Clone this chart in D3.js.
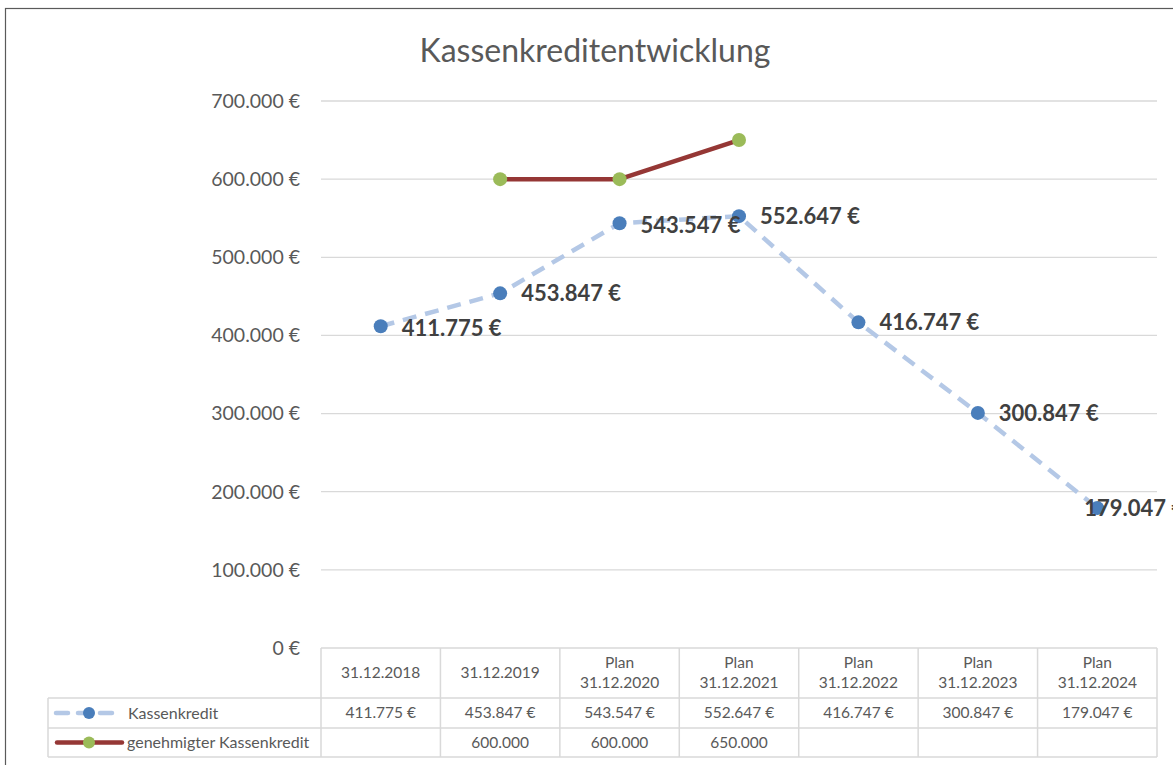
<!DOCTYPE html>
<html>
<head>
<meta charset="utf-8">
<script src="https://cdn.jsdelivr.net/npm/d3@7"></script>
<style>
  body { margin: 0; background: #fff; }
  svg text { font-family: Lato, "Open Sans", sans-serif; }
</style>
</head>
<body>
<div id="chart"></div>
<script>
// data
var categories = [
  ["31.12.2018"], ["31.12.2019"],
  ["Plan", "31.12.2020"], ["Plan", "31.12.2021"], ["Plan", "31.12.2022"],
  ["Plan", "31.12.2023"], ["Plan", "31.12.2024"]
];
var kassenkredit = [411775, 453847, 543547, 552647, 416747, 300847, 179047];
var genehmigt = [null, 600000, 600000, 650000, null, null, null];
var yTicks = [0, 100000, 200000, 300000, 400000, 500000, 600000, 700000];
var seriesNames = ["Kassenkredit", "genehmigter Kassenkredit"];

var attrs = {
  width: 1173,
  height: 765,
  plotLeft: 321,
  plotRight: 1157,
  plotTop: 101,
  plotBottom: 648,
  tableLeft: 48,
  rowBottoms: [698, 728, 757],
  textColor: '#595959',
  labelColor: '#404040',
  gridColor: '#d9d9d9',
  lineBlue: '#b4c8e6',
  markerBlue: '#4a7ebb',
  lineRed: '#953735',
  markerGreen: '#9bbb59',
  tableFont: 15.5
};

var fmt = function(v) {
  return d3.format(",.0f")(v).replace(/,/g, ".");
};

var svg = d3.select("#chart").append("svg")
  .attr("width", attrs.width)
  .attr("height", attrs.height);

// chart border
svg.append("rect")
  .attr("x", 5.5).attr("y", 8.5)
  .attr("width", 1200).attr("height", 800)
  .attr("fill", "none")
  .attr("stroke", "#5a5a5a")
  .attr("stroke-width", 1.2);

// title
svg.append("text")
  .attr("x", 595).attr("y", 62)
  .attr("text-anchor", "middle")
  .attr("font-size", 32)
  .attr("fill", attrs.textColor)
  .text("Kassenkreditentwicklung");

var x = d3.scaleBand()
  .domain(d3.range(categories.length))
  .range([attrs.plotLeft, attrs.plotRight]);

var y = d3.scaleLinear()
  .domain([0, 700000])
  .range([attrs.plotBottom, attrs.plotTop]);

var cx = function(i) { return x(i) + x.bandwidth() / 2; };

// grid lines
svg.append("g").selectAll("line")
  .data(yTicks.filter(function(d) { return d > 0; }))
  .join("line")
  .attr("x1", attrs.plotLeft).attr("x2", attrs.plotRight)
  .attr("y1", function(d) { return y(d); })
  .attr("y2", function(d) { return y(d); })
  .attr("stroke", attrs.gridColor)
  .attr("stroke-width", 1.3);

// y axis labels
svg.append("g").selectAll("text")
  .data(yTicks)
  .join("text")
  .attr("x", 300)
  .attr("y", function(d) { return y(d); })
  .attr("dy", "0.35em")
  .attr("text-anchor", "end")
  .attr("font-size", 19.5)
  .attr("fill", attrs.textColor)
  .text(function(d) { return fmt(d) + " €"; });

// lines
var line = d3.line()
  .defined(function(d) { return d != null; })
  .x(function(d, i) { return cx(i); })
  .y(function(d) { return y(d); });

svg.append("path")
  .datum(kassenkredit)
  .attr("d", line)
  .attr("fill", "none")
  .attr("stroke", attrs.lineBlue)
  .attr("stroke-width", 4.5)
  .attr("stroke-dasharray", "14,9")
  .attr("stroke-linejoin", "round");

svg.append("path")
  .datum(genehmigt)
  .attr("d", line)
  .attr("fill", "none")
  .attr("stroke", attrs.lineRed)
  .attr("stroke-width", 4.5)
  .attr("stroke-linejoin", "round");

// markers
svg.append("g").selectAll("circle")
  .data(kassenkredit)
  .join("circle")
  .attr("cx", function(d, i) { return cx(i); })
  .attr("cy", function(d) { return y(d); })
  .attr("r", 7)
  .attr("fill", attrs.markerBlue);

svg.append("g").selectAll("circle")
  .data(genehmigt.map(function(d, i) { return { v: d, i: i }; }).filter(function(d) { return d.v != null; }))
  .join("circle")
  .attr("cx", function(d) { return cx(d.i); })
  .attr("cy", function(d) { return y(d.v); })
  .attr("r", 7)
  .attr("fill", attrs.markerGreen);

// data labels (last one runs off the right edge, as in the original)
svg.append("g").selectAll("text")
  .data(kassenkredit)
  .join("text")
  .attr("x", function(d, i) { return cx(i) + (i === 6 ? -13 : 21); })
  .attr("y", function(d, i) { return y(d) + (i === 2 || i === 0 ? 2 : 0); })
  .attr("dy", "0.36em")
  .attr("font-size", 22)
  .attr("font-weight", "bold")
  .attr("fill", attrs.labelColor)
  .text(function(d) { return fmt(d) + " €"; });

// data table
var table = svg.append("g")
  .attr("stroke", attrs.gridColor)
  .attr("stroke-width", 1.5);

var rowTop = attrs.plotBottom;
table.append("line")
  .attr("x1", attrs.plotLeft).attr("x2", attrs.plotRight)
  .attr("y1", rowTop).attr("y2", rowTop);
attrs.rowBottoms.forEach(function(yy) {
  table.append("line")
    .attr("x1", attrs.tableLeft).attr("x2", attrs.plotRight)
    .attr("y1", yy).attr("y2", yy);
});
d3.range(categories.length + 1).forEach(function(i) {
  var xx = attrs.plotLeft + i * x.bandwidth();
  table.append("line")
    .attr("x1", xx).attr("x2", xx)
    .attr("y1", rowTop).attr("y2", attrs.rowBottoms[2]);
});
table.append("line")
  .attr("x1", attrs.tableLeft).attr("x2", attrs.tableLeft)
  .attr("y1", attrs.rowBottoms[0]).attr("y2", attrs.rowBottoms[2]);

// header text
var header = svg.append("g").selectAll("text")
  .data(categories)
  .join("text")
  .attr("text-anchor", "middle")
  .attr("font-size", attrs.tableFont)
  .attr("fill", attrs.textColor);

header.each(function(lines, i) {
  var t = d3.select(this);
  var mid = (rowTop + attrs.rowBottoms[0]) / 2;
  lines.forEach(function(s, k) {
    t.append("tspan")
      .attr("x", cx(i))
      .attr("y", mid + (k - (lines.length - 1) / 2) * 20)
      .attr("dy", "0.35em")
      .text(s);
  });
});

// value rows
var rowMid1 = (attrs.rowBottoms[0] + attrs.rowBottoms[1]) / 2;
var rowMid2 = (attrs.rowBottoms[1] + attrs.rowBottoms[2]) / 2;

svg.append("g").selectAll("text")
  .data(kassenkredit)
  .join("text")
  .attr("x", function(d, i) { return cx(i); })
  .attr("y", rowMid1)
  .attr("dy", "0.35em")
  .attr("text-anchor", "middle")
  .attr("font-size", attrs.tableFont)
  .attr("fill", attrs.textColor)
  .text(function(d) { return fmt(d) + " €"; });

svg.append("g").selectAll("text")
  .data(genehmigt)
  .join("text")
  .attr("x", function(d, i) { return cx(i); })
  .attr("y", rowMid2)
  .attr("dy", "0.35em")
  .attr("text-anchor", "middle")
  .attr("font-size", attrs.tableFont)
  .attr("fill", attrs.textColor)
  .text(function(d) { return d == null ? "" : fmt(d); });

// legend keys
var key1 = svg.append("g");
key1.append("line")
  .attr("x1", 56).attr("x2", 116)
  .attr("y1", rowMid1).attr("y2", rowMid1)
  .attr("stroke", attrs.lineBlue)
  .attr("stroke-width", 4.5)
  .attr("stroke-linecap", "round")
  .attr("stroke-dasharray", "12,10");
key1.append("circle")
  .attr("cx", 89).attr("cy", rowMid1).attr("r", 6)
  .attr("fill", attrs.markerBlue);
key1.append("text")
  .attr("x", 128).attr("y", rowMid1).attr("dy", "0.35em")
  .attr("font-size", 16).attr("fill", attrs.textColor)
  .text(seriesNames[0]);

var key2 = svg.append("g");
key2.append("line")
  .attr("x1", 57).attr("x2", 122)
  .attr("y1", rowMid2).attr("y2", rowMid2)
  .attr("stroke", attrs.lineRed)
  .attr("stroke-width", 4.5)
  .attr("stroke-linecap", "round");
key2.append("circle")
  .attr("cx", 89).attr("cy", rowMid2).attr("r", 6)
  .attr("fill", attrs.markerGreen);
key2.append("text")
  .attr("x", 127).attr("y", rowMid2).attr("dy", "0.35em")
  .attr("font-size", 16).attr("fill", attrs.textColor)
  .text(seriesNames[1]);
</script>
</body>
</html>
